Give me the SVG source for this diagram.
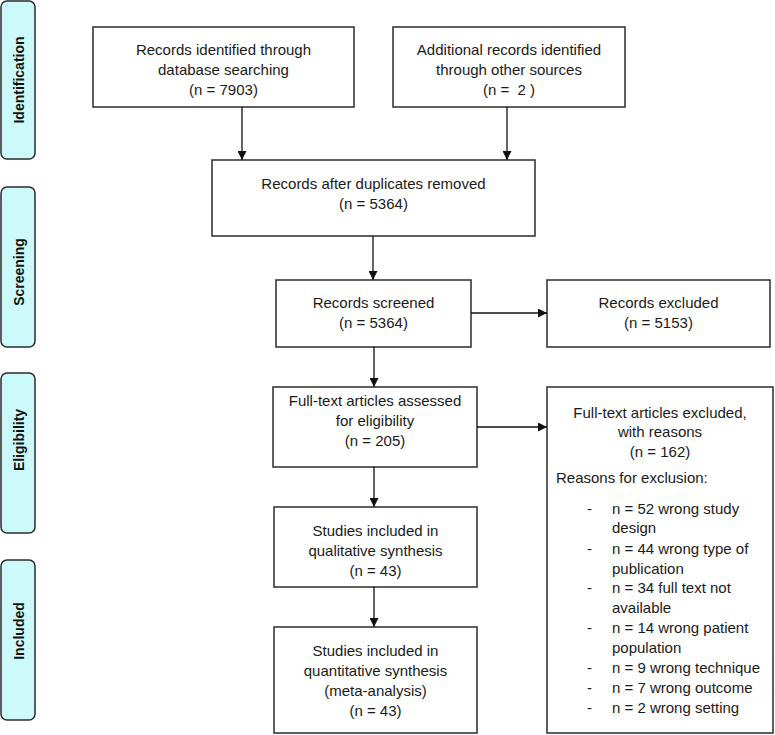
<svg xmlns="http://www.w3.org/2000/svg" width="775" height="735" viewBox="0 0 775 735">
<defs>
<marker id="ah" viewBox="0 0 10 10" refX="10" refY="5" markerWidth="9" markerHeight="9" markerUnits="userSpaceOnUse" orient="auto">
<path d="M0,0 L10,5 L0,10 z" fill="#111"/>
</marker>
<style>
.box{fill:#fff;stroke:#2b2b2b;stroke-width:1.5}
.side{fill:#ccfafa;stroke:#2b2b2b;stroke-width:1.5}
.t{font-family:"Liberation Sans",Arial,sans-serif;font-size:15px;fill:#1a1a1a;text-anchor:middle}
.tl{font-family:"Liberation Sans",Arial,sans-serif;font-size:15px;fill:#1a1a1a}
.s{font-family:"Liberation Sans",Arial,sans-serif;font-size:14px;font-weight:bold;fill:#111;text-anchor:middle}
.c{stroke:#111;stroke-width:1.3;fill:none;marker-end:url(#ah)}
</style>
</defs>
<rect width="775" height="735" fill="#fff"/>
<g id="phase-identification"><rect class="side" x="1" y="1" width="34" height="158" rx="6"/><text class="s" transform="translate(24,80) rotate(-90)">Identification</text></g>
<g id="phase-screening"><rect class="side" x="1" y="187" width="34" height="160" rx="6"/><text class="s" transform="translate(24,272) rotate(-90)">Screening</text></g>
<g id="phase-eligibility"><rect class="side" x="1" y="373" width="34" height="160" rx="6"/><text class="s" transform="translate(24,440) rotate(-90)">Eligibility</text></g>
<g id="phase-included"><rect class="side" x="1" y="560" width="34" height="160" rx="6"/><text class="s" transform="translate(24,631) rotate(-90)">Included</text></g>

<g id="n-database"><rect class="box" x="93" y="27" width="261" height="80"/>
<text class="t" x="223.5" y="55">Records identified through</text>
<text class="t" x="223.5" y="75">database searching</text>
<text class="t" x="223.5" y="95">(n = 7903)</text></g>
<g id="n-other"><rect class="box" x="393" y="27" width="232" height="80"/>
<text class="t" x="509" y="55">Additional records identified</text>
<text class="t" x="509" y="75">through other sources</text>
<text class="t" x="509" y="95">(n =&#160; 2 )</text></g>
<g id="n-duplicates"><rect class="box" x="212" y="160" width="323" height="76"/>
<text class="t" x="373.5" y="189">Records after duplicates removed</text>
<text class="t" x="373.5" y="209">(n = 5364)</text></g>
<g id="n-screened"><rect class="box" x="276" y="280" width="195" height="67"/>
<text class="t" x="373.5" y="308">Records screened</text>
<text class="t" x="373.5" y="328">(n = 5364)</text></g>
<g id="n-excluded"><rect class="box" x="547" y="280" width="223" height="67"/>
<text class="t" x="658.5" y="308">Records excluded</text>
<text class="t" x="658.5" y="328">(n = 5153)</text></g>
<g id="n-fulltext"><rect class="box" x="273" y="387" width="204" height="80"/>
<text class="t" x="375" y="406">Full-text articles assessed</text>
<text class="t" x="375" y="426">for eligibility</text>
<text class="t" x="375" y="446">(n = 205)</text></g>
<g id="n-ftexcluded"><rect class="box" x="547" y="387" width="226" height="346"/>
<text class="t" x="660" y="418">Full-text articles excluded,</text>
<text class="t" x="660" y="437">with reasons</text>
<text class="t" x="660" y="457">(n = 162)</text>
<text class="tl" x="556" y="483">Reasons for exclusion:</text>
<text class="tl" x="587" y="514">-</text><text class="tl" x="612" y="514">n = 52 wrong study</text>
<text class="tl" x="612" y="533">design</text>
<text class="tl" x="587" y="554">-</text><text class="tl" x="612" y="554">n = 44 wrong type of</text>
<text class="tl" x="612" y="574">publication</text>
<text class="tl" x="587" y="593">-</text><text class="tl" x="612" y="593">n = 34 full text not</text>
<text class="tl" x="612" y="613">available</text>
<text class="tl" x="587" y="633">-</text><text class="tl" x="612" y="633">n = 14 wrong patient</text>
<text class="tl" x="612" y="653">population</text>
<text class="tl" x="587" y="673">-</text><text class="tl" x="612" y="673">n = 9 wrong technique</text>
<text class="tl" x="587" y="693">-</text><text class="tl" x="612" y="693">n = 7 wrong outcome</text>
<text class="tl" x="587" y="713">-</text><text class="tl" x="612" y="713">n = 2 wrong setting</text>
</g>
<g id="n-qualitative"><rect class="box" x="274" y="507" width="203" height="80"/>
<text class="t" x="375.5" y="536">Studies included in</text>
<text class="t" x="375.5" y="556">qualitative synthesis</text>
<text class="t" x="375.5" y="576">(n = 43)</text></g>
<g id="n-quantitative"><rect class="box" x="274" y="627" width="203" height="106"/>
<text class="t" x="375.5" y="656">Studies included in</text>
<text class="t" x="375.5" y="676">quantitative synthesis</text>
<text class="t" x="375.5" y="696">(meta-analysis)</text>
<text class="t" x="375.5" y="716">(n = 43)</text></g>

<g id="connectors">
<line class="c" x1="242" y1="107" x2="242" y2="160"/>
<line class="c" x1="507" y1="107" x2="507" y2="160"/>
<line class="c" x1="373" y1="236" x2="373" y2="280"/>
<line class="c" x1="471" y1="313" x2="547" y2="313"/>
<line class="c" x1="374" y1="347" x2="374" y2="387"/>
<line class="c" x1="477" y1="427" x2="547" y2="427"/>
<line class="c" x1="374" y1="467" x2="374" y2="507"/>
<line class="c" x1="374" y1="587" x2="374" y2="627"/>
</g>
</svg>
